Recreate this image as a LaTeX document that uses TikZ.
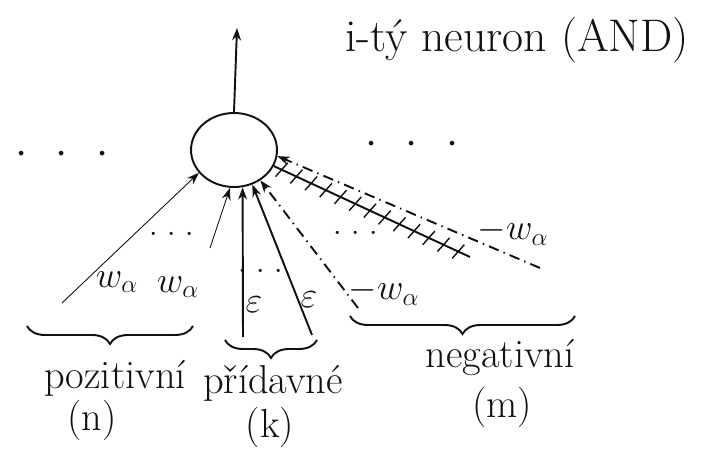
\documentclass[tikz,border=0pt]{standalone}
\usepackage{tikz}
\usetikzlibrary{arrows.meta,calc,positioning,shapes.geometric,decorations.pathreplacing,decorations.markings}
\definecolor{SketchInk}{HTML}{111111}
\newcommand{\sketchdots}{$\cdot$\hspace{0.7em}$\cdot$\hspace{0.7em}$\cdot$}
\newcommand{\smalldots}{$\cdot$\hspace{0.3em}$\cdot$\hspace{0.3em}$\cdot$}
\tikzset{
  ink/.style={SketchInk,line width=1.1pt},
  lbl/.style={text=SketchInk,inner sep=0pt,font=\fontsize{23}{27}\selectfont},
  mathlbl/.style={lbl,font=\fontsize{20}{24}\selectfont},
  headlbl/.style={lbl,font=\fontsize{26}{31}\selectfont},
  dotlbl/.style={lbl,font=\fontsize{18}{22}\selectfont},
  feed/.style={ink,-{Stealth[length=7pt,width=5pt]}},
  thinfeed/.style={feed,line width=0.5pt},
  negfeed/.style={feed,dash pattern=on 6pt off 3pt on 0.8pt off 3pt},
  groupbrace/.style={ink,decorate,decoration={brace,mirror,amplitude=0.36cm}},
  hatched/.style={ink,postaction={decorate},
    decoration={markings,mark=between positions 0.06 and 0.96 step 0.075
      with {\draw[SketchInk,line width=0.8pt] (-1.5pt,-5pt) -- (1.5pt,5pt);}}}
}
\begin{document}
\begin{tikzpicture}[x=0.02cm,y=-0.02cm]
  \useasboundingbox (0,0) rectangle (707,449);

  % the neuron and its output
  \node[ellipse,draw,ink,minimum width=1.72cm,minimum height=1.48cm,inner sep=0pt]
    (neuron) at (234,150) {};
  \coordinate (out) at (237,28);
  \draw[feed] (neuron.north) -- (out);
  \node[headlbl,anchor=west] (title) at (345,40) {i-tý neuron (AND)};

  \node[lbl] (leftdots) at (62,155) {\sketchdots};
  \node[lbl] (rightdots) at (412,145) {\sketchdots};

  % inputs
  \coordinate (pos1) at (62,303);
  \coordinate (pos2) at (210,248);
  \coordinate (eps1) at (243,337);
  \coordinate (eps2) at (312,335);
  \coordinate (neg1) at (358,308);
  \coordinate (hatch) at (470,257);
  \coordinate (neg2) at (540,268);

  \draw[thinfeed] (pos1) -- (neuron.213);
  \draw[thinfeed] (pos2) -- (neuron.264);
  \draw[feed] (eps1) -- (neuron.283);
  \draw[feed] (eps2) -- (neuron.298);
  \draw[negfeed] (neg1) -- (neuron.311);
  \draw[hatched] (hatch) -- (neuron.338);
  \draw[negfeed] (neg2) -- (neuron.352);

  \node[mathlbl] (wpos1) at (117,282) {$w_\alpha$};
  \node[mathlbl] (wpos2) at (178,287) {$w_\alpha$};
  \node[mathlbl] (epslbl1) at (254,305) {$\varepsilon$};
  \node[mathlbl] (epslbl2) at (309,300) {$\varepsilon$};
  \node[mathlbl] (wneg1) at (384,292) {$-w_\alpha$};
  \node[mathlbl] (wneg2) at (513,232) {$-w_\alpha$};
  \node[dotlbl] (posdots) at (172,235) {\smalldots};
  \node[dotlbl] (epsdots) at (261,272) {\smalldots};
  \node[dotlbl] (negdots) at (356,234) {\smalldots};

  % groups
  \draw[groupbrace] (27,326) -- (193,326);
  \draw[groupbrace] (225,340) -- (317,340);
  \draw[groupbrace] (350,316) -- (575,316);

  \node[lbl] (pozlbl) at (115,378) {pozitivní};
  \node[lbl] (poznum) at (92,420) {(n)};
  \node[lbl] (pridlbl) at (273,383) {přídavné};
  \node[lbl] (pridnum) at (270,427) {(k)};
  \node[lbl] (neglbl) at (500,358) {negativní};
  \node[lbl] (negnum) at (502,407) {(m)};
\end{tikzpicture}
\end{document}
